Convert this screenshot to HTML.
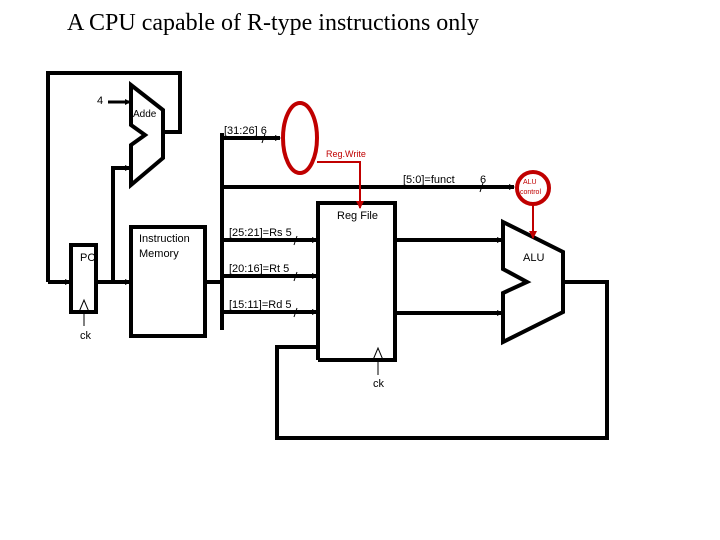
<!DOCTYPE html>
<html><head><meta charset="utf-8"><style>
html,body{margin:0;padding:0;background:#fff;width:720px;height:540px;overflow:hidden}
svg{display:block}
text{font-family:"Liberation Sans",sans-serif;fill:#000}
</style></head><body>
<svg width="720" height="540" viewBox="0 0 720 540" xmlns="http://www.w3.org/2000/svg">
<defs>
<marker id="a" markerWidth="6" markerHeight="6" refX="5" refY="3" orient="auto" markerUnits="userSpaceOnUse"><path d="M0,0 L6,3 L0,6z" fill="#000"/></marker>
<marker id="r" markerWidth="8" markerHeight="8" refX="7" refY="4" orient="auto" markerUnits="userSpaceOnUse"><path d="M0,0 L8,4 L0,8z" fill="#c00000"/></marker>
</defs>
<text x="67" y="30" style="font-family:'Liberation Serif',serif;font-size:24px">A CPU capable of R-type instructions only</text>
<g stroke="#000" stroke-width="4" fill="none">
<polyline points="48,282 48,73 180,73 180,132 163,132"/>
<line x1="48" y1="282" x2="70" y2="282" marker-end="url(#a)"/>
<polygon points="131,85 163,110 163,158 131,185 131,145 145,135 131,125"/>
<line x1="108" y1="102" x2="130" y2="102" stroke-width="3" marker-end="url(#a)"/>
<polyline points="113,282 113,168 130,168" marker-end="url(#a)"/>
<rect x="71" y="245" width="25" height="67"/>
<line x1="96" y1="282" x2="130" y2="282" marker-end="url(#a)"/>
<rect x="131" y="227" width="74" height="109"/>
<line x1="205" y1="282" x2="222" y2="282"/>
<line x1="222" y1="133" x2="222" y2="330"/>
<line x1="222" y1="138" x2="280" y2="138" marker-end="url(#a)"/>
<line x1="222" y1="187" x2="514" y2="187" marker-end="url(#a)"/>
<line x1="222" y1="240" x2="317" y2="240" marker-end="url(#a)"/>
<line x1="222" y1="276" x2="317" y2="276" marker-end="url(#a)"/>
<line x1="222" y1="312" x2="317" y2="312" marker-end="url(#a)"/>
<polyline points="318,360 318,203 395,203 395,360 318,360"/>
<polyline points="318,347 277,347 277,438 607,438 607,282 565,282"/>
<line x1="395" y1="240" x2="502" y2="240" marker-end="url(#a)"/>
<line x1="395" y1="313" x2="502" y2="313" marker-end="url(#a)"/>
<polygon points="503,222 563,252 563,312 503,342 503,293 527,282 503,269"/>
</g>
<g stroke="#000" stroke-width="1" fill="none">
<polyline points="79,312 84,300 89,312"/>
<line x1="84" y1="312" x2="84" y2="326"/>
<polyline points="373,360 378,348 383,360"/>
<line x1="378" y1="360" x2="378" y2="375"/>
<line x1="262" y1="143" x2="265" y2="134"/>
<line x1="294" y1="245" x2="297" y2="236"/>
<line x1="294" y1="281" x2="297" y2="272"/>
<line x1="294" y1="317" x2="297" y2="308"/>
<line x1="480" y1="192" x2="483" y2="183"/>
</g>
<g stroke="#c00000" fill="none">
<ellipse cx="300" cy="138" rx="17" ry="35" stroke-width="4"/>
<circle cx="533" cy="188" r="16" stroke-width="4"/>
<polyline points="317,162 360,162 360,208" stroke-width="2" marker-end="url(#r)"/>
<line x1="533" y1="205" x2="533" y2="238" stroke-width="2" marker-end="url(#r)"/>
</g>
<text x="97" y="104" font-size="11">4</text>
<text x="133" y="117" font-size="10">Adde</text>
<text x="224" y="134" font-size="11">[31:26]  6</text>
<text x="326" y="157" font-size="9" style="fill:#c00000">Reg.Write</text>
<text x="403" y="183" font-size="11">[5:0]=funct</text>
<text x="480" y="183" font-size="11">6</text>
<text x="523" y="184" font-size="7" style="fill:#c00000">ALU</text>
<text x="520" y="194" font-size="7" style="fill:#c00000">control</text>
<text x="337" y="219" font-size="11">Reg File</text>
<text x="139" y="242" font-size="11">Instruction</text>
<text x="139" y="257" font-size="11">Memory</text>
<text x="80" y="261" font-size="11">PC</text>
<text x="229" y="236" font-size="11">[25:21]=Rs  5</text>
<text x="229" y="272" font-size="11">[20:16]=Rt   5</text>
<text x="229" y="308" font-size="11">[15:11]=Rd  5</text>
<text x="523" y="261" font-size="11">ALU</text>
<text x="80" y="339" font-size="11">ck</text>
<text x="373" y="387" font-size="11">ck</text>
</svg>
</body></html>
